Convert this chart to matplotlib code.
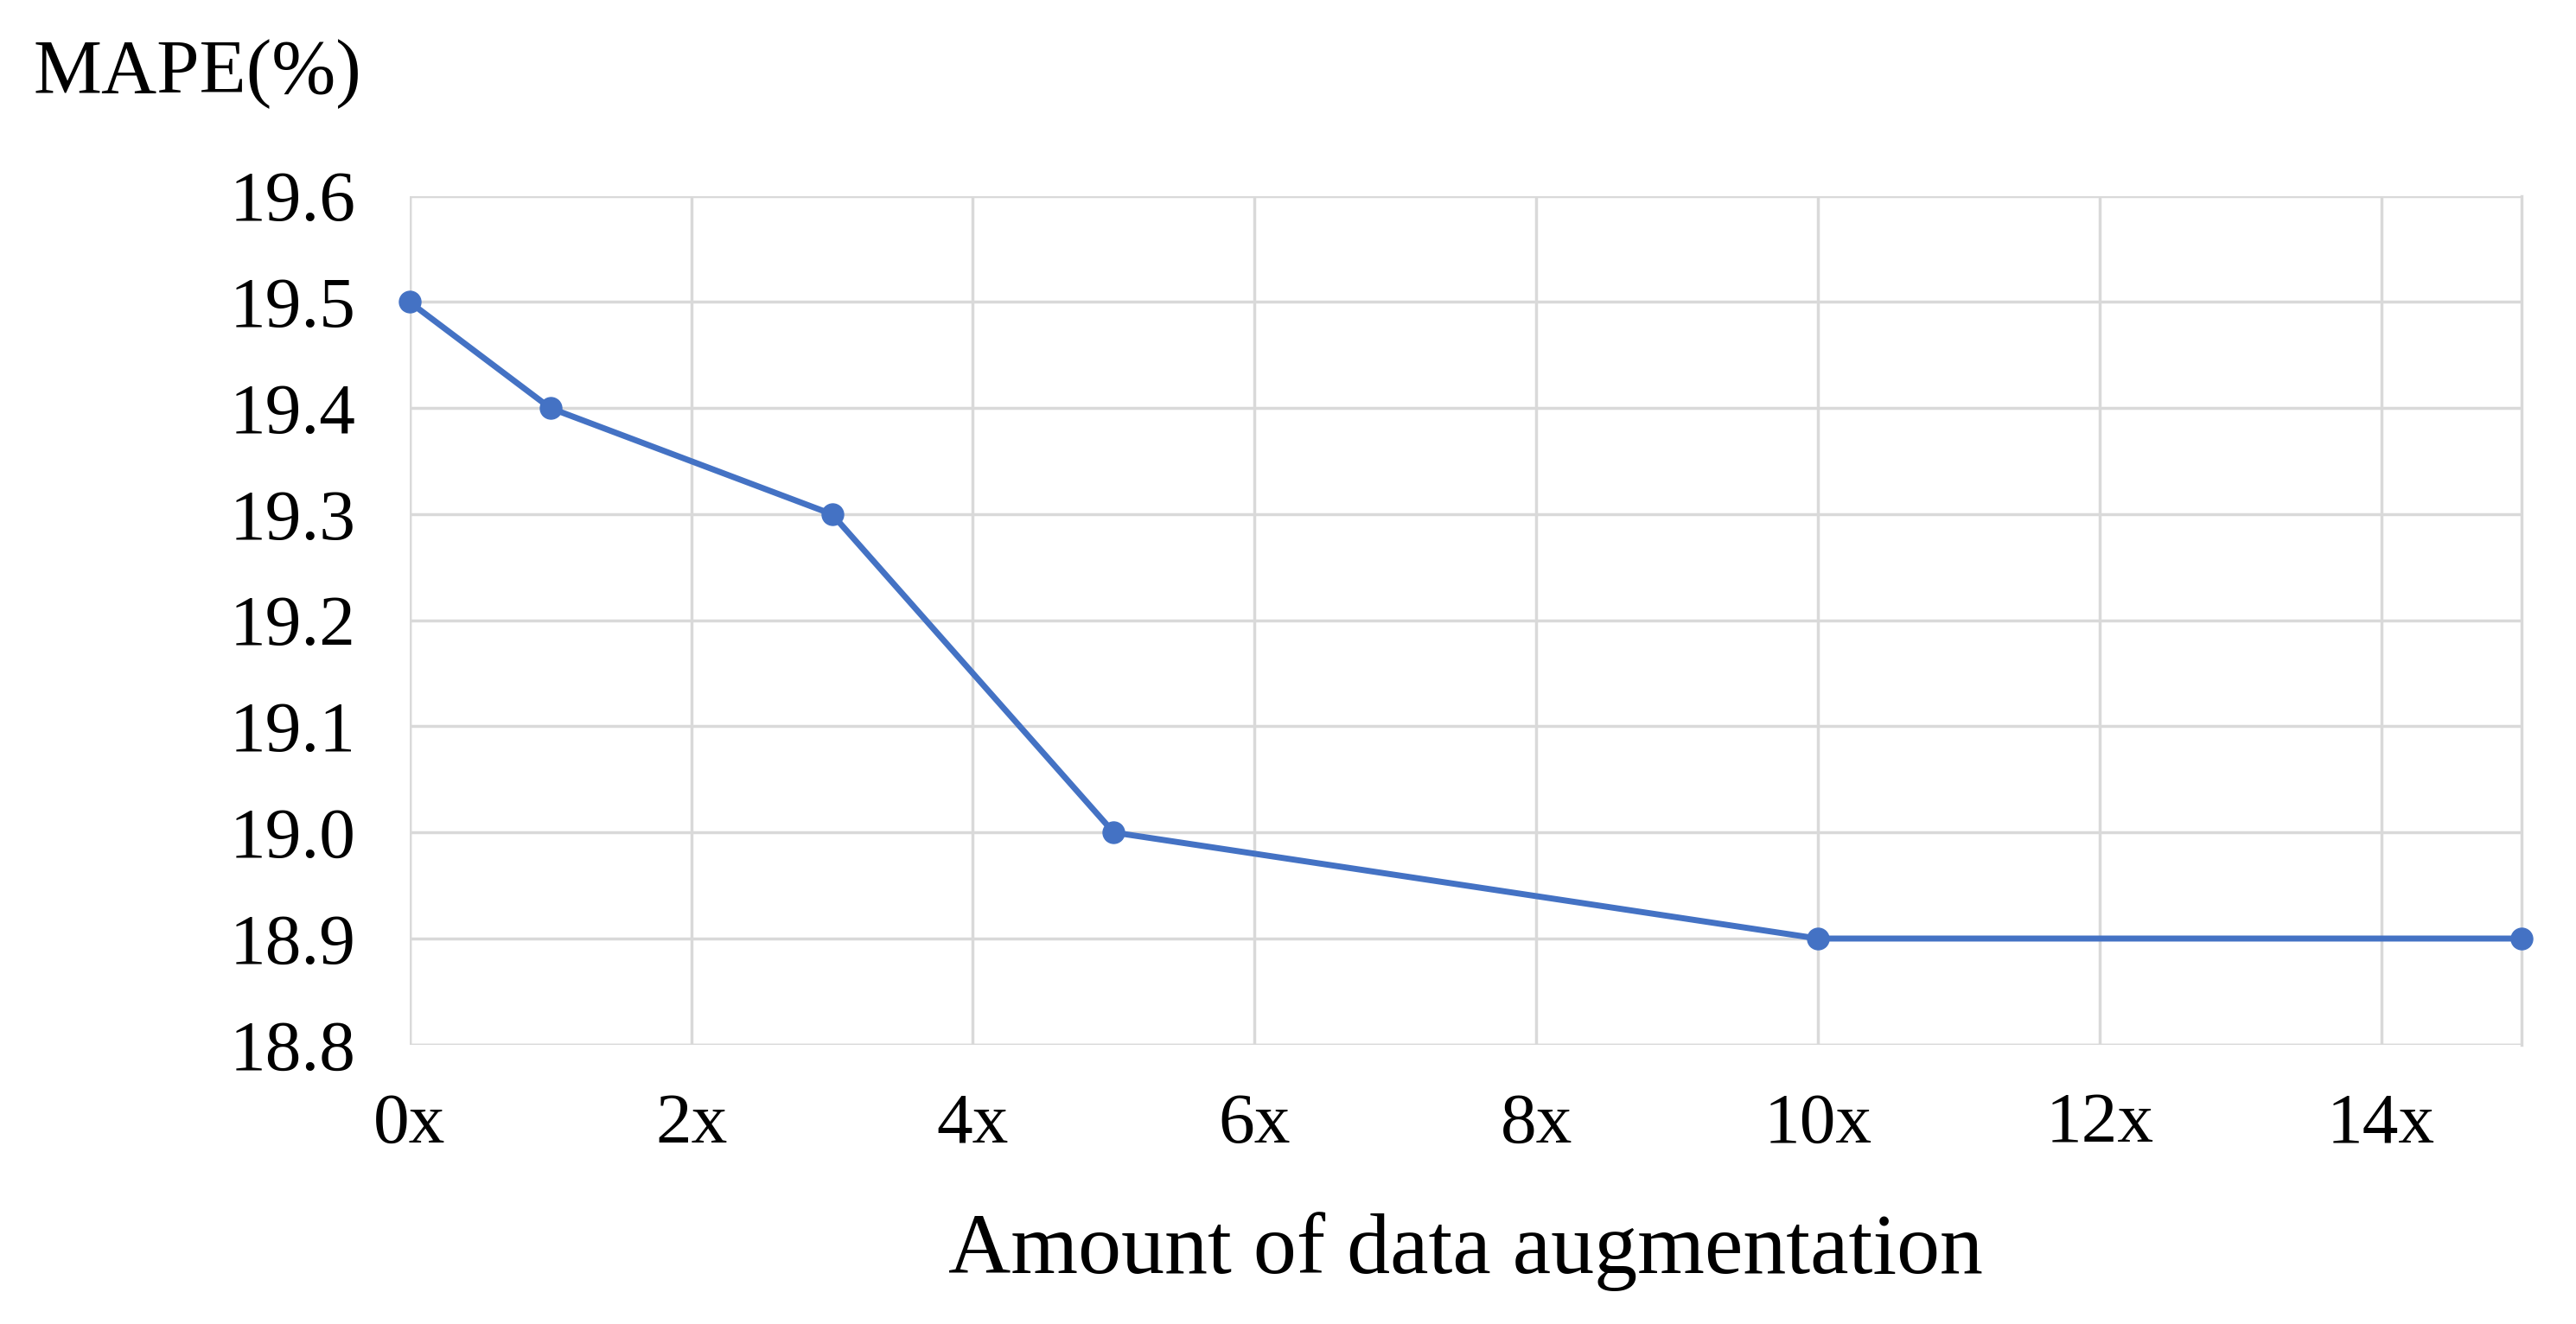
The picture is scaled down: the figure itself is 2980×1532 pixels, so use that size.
import matplotlib.pyplot as plt
import numpy as np

# data
aug = [0, 1, 3, 5, 10, 15]
mape = [19.5, 19.4, 19.3, 19.0, 18.9, 18.9]
xticks = [0, 2, 4, 6, 8, 10, 12, 14]
xticklabels = ['0x', '2x', '4x', '6x', '8x', '10x', '12x', '14x']
yticks = [18.8, 18.9, 19.0, 19.1, 19.2, 19.3, 19.4, 19.5, 19.6]

plt.rcParams['font.family'] = ['Liberation Serif', 'DejaVu Serif']

fig = plt.figure(figsize=(29.8, 15.32), dpi=100)
ax = fig.add_axes([0.159, 0.211, 0.82, 0.641])

ax.plot(aug, mape, color='#4472C4', lw=5, marker='o', ms=18, zorder=3, clip_on=False)

ax.set_xlim(0, 15)
ax.set_ylim(18.8, 19.6)
ax.set_xticks(xticks)
ax.set_xticklabels(xticklabels)
ax.set_yticks(yticks)
ax.set_yticklabels(['%.1f' % v for v in yticks])
ax.tick_params(length=0, labelsize=60)
ax.tick_params(axis='x', pad=40)
ax.tick_params(axis='y', pad=45)

ax.grid(True, color='#D9D9D9', lw=2.5)
for s in ['top', 'left', 'bottom']:
    ax.spines[s].set_visible(False)
ax.spines['right'].set_color('#D9D9D9')
ax.spines['right'].set_linewidth(2.5)
ax.axhline(18.8, color='#D9D9D9', lw=2.5, zorder=1)
ax.axvline(0, color='#D9D9D9', lw=2.5, zorder=1)

ax.set_xlabel('Amount of data augmentation', fontsize=72, labelpad=45)
fig.text(0.013, 0.944, 'MAPE(%)', fontsize=64, va='center', ha='left')

plt.savefig('out.png')
